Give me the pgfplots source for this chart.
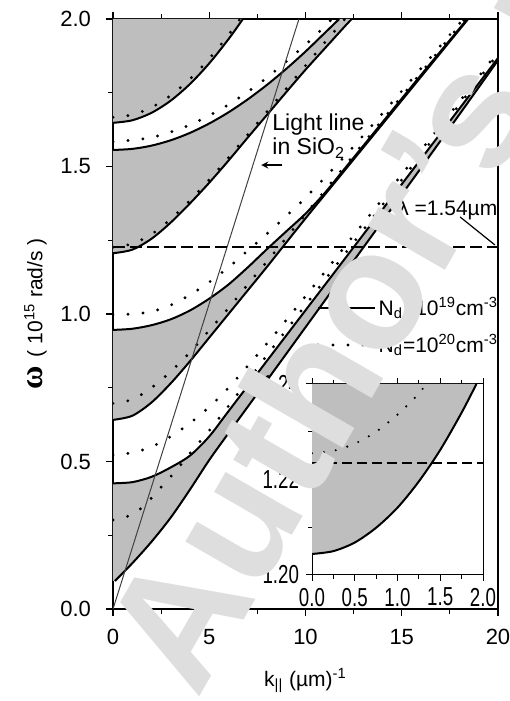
\documentclass[border=0pt]{standalone}
\usepackage{fontspec}
\setmainfont{Liberation Sans}
\newfontfamily\serifw{Liberation Serif}
\newfontfamily\narrow[FakeStretch=0.72]{Liberation Sans}
\usepackage{pgfplots}
\pgfplotsset{compat=1.18}
\definecolor{band}{RGB}{190,190,190}
\definecolor{wmark}{RGB}{222,222,222}
\tikzset{
  sol/.style={black, line width=1pt},
  dots/.style={black, line width=1.6pt, line cap=round, dash pattern=on 0pt off 7.5pt},
  bandfill/.style={fill=band, draw=none},
  note/.style={inner sep=0pt, font=\fontsize{10.5}{12}\selectfont},
}
\begin{document}
\begin{tikzpicture}
\begin{axis}[
  at={(0,0)}, anchor=south west,
  width=192.5pt, height=295pt, scale only axis,
  xmin=0, xmax=20, ymin=0, ymax=2,
  xtick={0,5,...,20}, ytick={0,0.5,...,2},
  minor x tick num=1, minor y tick num=1,
  tick align=outside, xtick pos=both, ytick pos=left,
  major tick length=3.5pt, minor tick length=2.5pt,
  tick style={black, line width=0.6pt},
  axis line style={line width=0.6pt},
  /pgf/number format/assume math mode=true,
  yticklabel style={xshift=-4pt, /pgf/number format/fixed, /pgf/number format/fixed zerofill, /pgf/number format/precision=1},
  xticklabel style={yshift=-3pt},
  tick label style={font=\fontsize{11}{12}\selectfont},
  xlabel={k\textsubscript{||} (µm)\textsuperscript{-1}},
  xlabel style={font=\fontsize{10.5}{12}\selectfont, yshift=-5pt},
  ylabel={{\fontsize{16}{16}\selectfont\serifw\bfseries ω}\, ( 10\textsuperscript{15} rad/s )},
  ylabel style={font=\fontsize{10.5}{12}\selectfont},
]
% shaded bands
\addplot[bandfill] coordinates {(0,1.648)(1,1.6566)(2,1.6819)(3,1.7233)(4,1.7797)(5,1.8496)(6,1.9316)(6.75,2.0)(0,2.0)} --cycle;
\addplot[bandfill] coordinates {(0,1.556)(1,1.5597)(2,1.5707)(3,1.5889)(4,1.614)(5,1.6458)(6,1.6837)(7,1.7276)(8,1.7768)(9,1.831)(10,1.8897)(11,1.9526)(11.75,2.0)
  (12.4,2.0)(12,1.972)(11,1.9)(10,1.828)(9,1.752)(8,1.675)(7,1.598)(6,1.52)(5,1.445)(4,1.375)(3,1.31)(2,1.255)(1,1.218)(0,1.206)} --cycle;
\addplot[bandfill] coordinates {(0,0.946)(1,0.95)(2,0.962)(3,0.982)(4,1.012)(5,1.052)(6,1.1)(7,1.158)(8,1.22)(9,1.28)(10,1.34)(11,1.41)(12,1.49)(14,1.65)(16,1.81)(18,1.968)(18.4,2.0)
  (18.45,2.0)(18,1.964)(16,1.804)(14,1.644)(12,1.484)(10,1.324)(8,1.16)(7,1.08)(6,1.0)(5,0.92)(4,0.84)(3,0.765)(2,0.70)(1,0.655)(0,0.641)} --cycle;
\addplot[bandfill] coordinates {(0,0.426)(1,0.43)(2,0.448)(3,0.48)(4,0.52)(5,0.585)(6,0.6705)(8,0.8415)(10,1.0125)(12,1.1835)(14,1.3545)(16,1.5255)(18,1.6965)(20,1.8675)
  (20,1.86)(18,1.677)(16,1.495)(14,1.315)(12,1.135)(10,0.955)(8,0.775)(6,0.596)(5,0.505)(4,0.405)(3,0.31)(2,0.228)(1,0.155)(0.1,0.095)(0,0.095)} --cycle;
% N_d = 1e20 (dotted)
\addplot[dots, smooth] coordinates {(0,1.667)(1,1.6753)(2,1.7003)(3,1.741)(4,1.7964)(5,1.8652)(6,1.946)(6.6,2.0)};
\addplot[dots, smooth] coordinates {(0,1.584)(2,1.5984)(4,1.641)(6,1.7097)(8,1.8014)(10,1.9128)(11.38,2.0)};
\addplot[dots, smooth] coordinates {(0,1.226)(1,1.238)(2,1.27)(3,1.322)(4,1.385)(5,1.455)(6,1.53)(7,1.608)(8,1.686)(9,1.764)(10,1.842)(11,1.92)(12.05,2.0)};
\addplot[dots, smooth] coordinates {(0,0.997)(1,1.0)(2,1.008)(3,1.03)(4,1.065)(5,1.108)(6,1.158)(7,1.215)(8,1.272)(9,1.332)(10,1.394)(12,1.532)(14,1.68)(16,1.832)(18.2,2.0)};
\addplot[dots, smooth] coordinates {(0,0.697)(1,0.71)(2,0.75)(3,0.805)(4,0.87)(5,0.945)(6,1.02)(7,1.1)(8,1.178)(9,1.258)(10,1.338)(12,1.498)(14,1.658)(16,1.818)(18,1.978)(18.27,2.0)};
\addplot[dots, smooth] coordinates {(0,0.522)(1,0.53)(2,0.55)(3,0.585)(4,0.63)(5,0.685)(6,0.75)(8,0.9)(10,1.06)(12,1.225)(14,1.39)(16,1.555)(18,1.72)(20,1.89)};
\addplot[dots, smooth] coordinates {(0,0.302)(1,0.32)(1.75,0.359)(2.53,0.415)(3.3,0.471)(4,0.528)(5,0.605)(6,0.688)(8,0.86)(10,1.03)(12,1.2)(14,1.37)(16,1.54)(18,1.71)(20,1.882)};
% N_d = 1e19 (solid)
\addplot[sol, smooth] coordinates {(0,1.648)(1,1.6566)(2,1.6819)(3,1.7233)(4,1.7797)(5,1.8496)(6,1.9316)(6.75,2.0)};
\addplot[sol, smooth] coordinates {(0,1.556)(1,1.5597)(2,1.5707)(3,1.5889)(4,1.614)(5,1.6458)(6,1.6837)(7,1.7276)(8,1.7768)(9,1.831)(10,1.8897)(11,1.9526)(11.75,2.0)};
\addplot[sol, smooth] coordinates {(0,1.206)(1,1.218)(2,1.255)(3,1.31)(4,1.375)(5,1.445)(6,1.52)(7,1.598)(8,1.675)(9,1.752)(10,1.828)(11,1.9)(12,1.972)(12.4,2.0)};
\addplot[sol, smooth] coordinates {(0,0.946)(1,0.95)(2,0.962)(3,0.982)(4,1.012)(5,1.052)(6,1.1)(7,1.158)(8,1.22)(9,1.28)(10,1.34)(11,1.41)(12,1.49)(14,1.65)(16,1.81)(18,1.968)(18.4,2.0)};
\addplot[sol, smooth] coordinates {(0,0.641)(1,0.655)(2,0.70)(3,0.765)(4,0.84)(5,0.92)(6,1.0)(7,1.08)(8,1.16)(10,1.324)(12,1.484)(14,1.644)(16,1.804)(18,1.964)(18.45,2.0)};
\addplot[sol, smooth] coordinates {(0,0.426)(1,0.43)(2,0.448)(3,0.48)(4,0.52)(5,0.585)(6,0.6705)(8,0.8415)(10,1.0125)(12,1.1835)(14,1.3545)(16,1.5255)(18,1.6965)(20,1.8675)};
\addplot[sol, smooth] coordinates {(0.1,0.095)(1,0.155)(2,0.228)(3,0.31)(4,0.405)(5,0.505)(6,0.596)(8,0.775)(10,0.955)(12,1.135)(14,1.315)(16,1.495)(18,1.677)(20,1.86)};
% light line in SiO2 and lambda = 1.54 um
\addplot[black!75, line width=0.5pt] coordinates {(0,0)(9.66,2.0)};
\addplot[black, line width=1pt, dash pattern=on 6pt off 2.5pt] coordinates {(0,1.226)(20,1.226)};
% annotations
\node[note, anchor=west, font=\fontsize{11.5}{12}\selectfont] at (axis cs:8.26,1.641) {Light line};
\node[note, anchor=west, font=\fontsize{11.5}{12}\selectfont] at (axis cs:8.26,1.563) {in SiO\textsubscript{2}};
\draw[-stealth, line width=0.6pt] (axis cs:8.8,1.505) -- (axis cs:7.7,1.505);
\node[note, anchor=west] at (axis cs:14.8,1.353) {λ =1.54µm};
\draw[line width=0.6pt] (axis cs:18.03,1.329) -- (axis cs:19.84,1.234);
\draw[sol] (axis cs:10.65,1.02) -- (axis cs:13.61,1.02);
\node[note, anchor=west] at (axis cs:13.78,1.02) {N\textsubscript{d}=10\textsuperscript{19}cm\textsuperscript{-3}};
\draw[dots] (axis cs:10.65,0.895) -- (axis cs:13.61,0.895);
\node[note, anchor=west] at (axis cs:13.78,0.895) {N\textsubscript{d}=10\textsuperscript{20}cm\textsuperscript{-3}};
\end{axis}
% inset
\begin{axis}[
  at={(99.5pt,17pt)}, anchor=south west,
  width=85.5pt, height=95.5pt, scale only axis,
  axis background/.style={fill=white},
  xmin=0, xmax=2, ymin=1.20, ymax=1.24,
  xtick={0,0.5,...,2}, ytick={1.20,1.22,1.24},
  minor x tick num=1, minor y tick num=1,
  tick align=outside, xtick pos=both, ytick pos=left,
  major tick length=3pt, minor tick length=2pt,
  tick style={black, line width=0.5pt},
  axis line style={line width=0.5pt},
  /pgf/number format/assume math mode=true,
  xticklabel style={/pgf/number format/fixed, /pgf/number format/fixed zerofill, /pgf/number format/precision=1},
  yticklabel style={/pgf/number format/fixed, /pgf/number format/fixed zerofill, /pgf/number format/precision=2},
  tick label style={font=\narrow\fontsize{13}{13}\selectfont},
]
\addplot[bandfill] coordinates {(0,1.2044)(0.25,1.2050)(0.5,1.2068)(0.75,1.2099)(1.0,1.2141)(1.25,1.2196)(1.5,1.2262)(1.75,1.2340)(1.923,1.24)(0,1.24)} --cycle;
\addplot[dots, line width=1.2pt, dash pattern=on 0pt off 6pt, smooth] coordinates {(0,1.2255)(0.25,1.2260)(0.5,1.2275)(0.75,1.2300)(1.0,1.2336)(1.17,1.2365)(1.27,1.2385)(1.35,1.2401)};
\addplot[sol, smooth] coordinates {(0,1.2044)(0.25,1.2050)(0.5,1.2068)(0.75,1.2099)(1.0,1.2141)(1.25,1.2196)(1.5,1.2262)(1.75,1.2340)(1.923,1.24)};
\addplot[black, line width=0.8pt, dash pattern=on 5pt off 2.5pt] coordinates {(0,1.2235)(2,1.2235)};
\end{axis}
% watermark
\node[overlay, rotate=60, anchor=base west, inner sep=0pt, text=wmark, font=\bfseries\fontsize{84}{84}\selectfont] at (42pt,-46pt) {Author's personal copy};
\pgfresetboundingbox
\path[use as bounding box] (-56.5pt,-46pt) rectangle (198pt,304.5pt);
\end{tikzpicture}
\end{document}
